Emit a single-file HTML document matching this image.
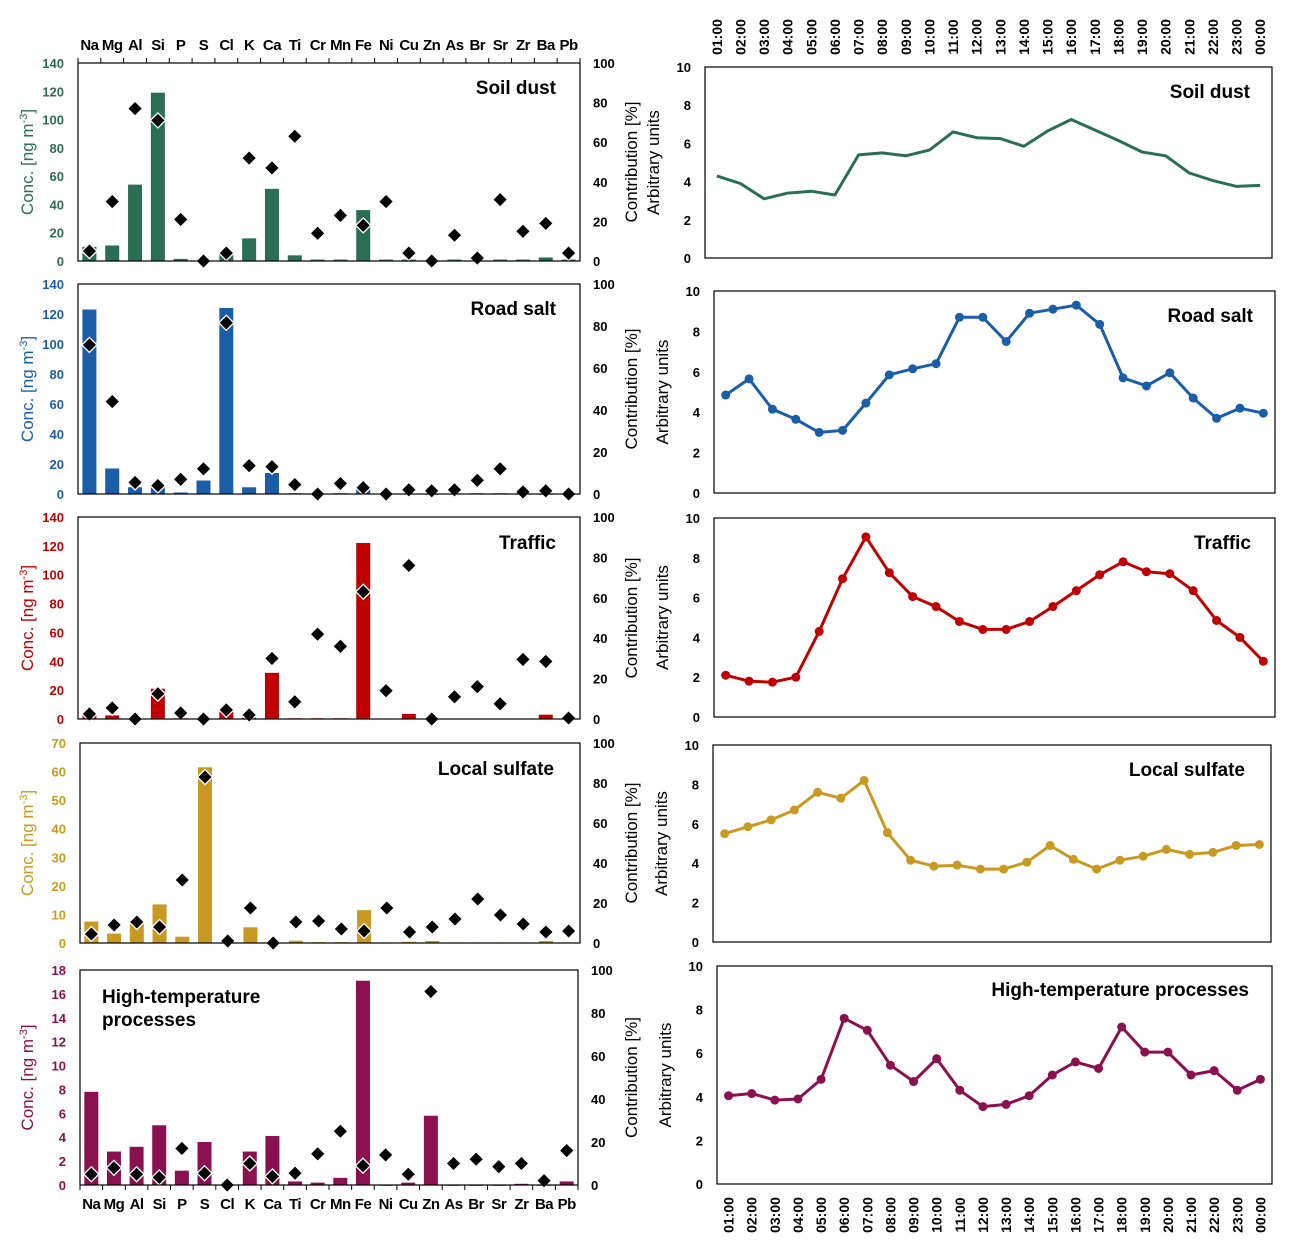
<!DOCTYPE html>
<html><head><meta charset="utf-8"><style>
html,body{margin:0;padding:0;background:#fff;}
svg{display:block;font-family:"Liberation Sans",Arial,sans-serif;}
</style></head><body>
<svg id="fig" width="1294" height="1253" viewBox="0 0 1294 1253" xmlns="http://www.w3.org/2000/svg"></svg>
<script>
const elements = ["Na","Mg","Al","Si","P","S","Cl","K","Ca","Ti","Cr","Mn","Fe","Ni","Cu","Zn","As","Br","Sr","Zr","Ba","Pb"];
const hours = ["01:00","02:00","03:00","04:00","05:00","06:00","07:00","08:00","09:00","10:00","11:00","12:00","13:00","14:00","15:00","16:00","17:00","18:00","19:00","20:00","21:00","22:00","23:00","00:00"];
const sourceNames = ["Soil dust","Road salt","Traffic","Local sulfate","High-temperature processes"];

const soilConc = [10,11,54,119,1.5,0,5,16,51,4,1,1,36,1,1,0,1,0.5,1,1,2.5,1];
const soilContrib = [5,30,77,71,21,0,4,52,47,63,14,23,18,30,4,0,13,1.5,31,15,19,4];
const saltConc = [123,17,4.5,5,1,9,124,4.5,14,0.5,0,0.5,4,0,0.3,0,0.3,0.5,0.5,0,0,0];
const saltContrib = [71,44,5.5,4,7,12,81.5,13.5,13,4.5,0,5,3,0,2,1.5,2,6.5,12,1,1.5,0];
const trafficConc = [3,2.5,0,21,0.5,0,7,1,32,0.5,0.5,0.5,122,0.3,3.5,0,0.2,0.2,0.2,0.2,3,0];
const trafficContrib = [2.5,5.5,0,12.5,3,0,4.5,2,30,8.5,42,36,63,14,76,0,11,16,7.5,29.5,28.5,0.5];
const sulfateConc = [7.5,3.3,7,13.5,2.2,61.5,0,5.5,0,0.8,0.3,0.3,11.5,0.2,0.4,0.7,0.2,0.2,0.2,0.2,0.7,0.2];
const sulfateContrib = [4.5,9,10.5,8,31.5,83,1,17.5,0,10.5,11,7,6,17.5,5.5,8,12,22,14,9.5,5.5,6];
const htConc = [7.8,2.8,3.2,5.0,1.2,3.6,0,2.8,4.1,0.3,0.2,0.6,17.1,0,0.2,5.8,0,0,0,0.1,0,0.3];
const htContrib = [5,8,5,3.5,17,5.5,0,10,4,5.5,14.5,25,9,14,5,90,10,12,8.5,10,2,16];

const soilDiurnal = [4.3,3.9,3.1,3.4,3.5,3.3,5.4,5.5,5.35,5.65,6.6,6.3,6.25,5.85,6.65,7.25,6.7,6.15,5.55,5.35,4.45,4.05,3.75,3.8];
const saltDiurnal = [4.85,5.65,4.15,3.65,3.0,3.1,4.45,5.85,6.15,6.4,8.7,8.7,7.5,8.9,9.1,9.3,8.35,5.7,5.3,5.95,4.7,3.7,4.2,3.95];
const trafficDiurnal = [2.1,1.8,1.75,2.0,4.3,6.95,9.05,7.25,6.05,5.55,4.8,4.4,4.4,4.8,5.55,6.35,7.15,7.8,7.3,7.2,6.35,4.85,4.0,2.8];
const sulfateDiurnal = [5.5,5.85,6.2,6.7,7.6,7.3,8.2,5.55,4.15,3.85,3.9,3.7,3.7,4.05,4.9,4.2,3.7,4.15,4.35,4.7,4.45,4.55,4.9,4.95];
const htDiurnal = [4.05,4.15,3.85,3.9,4.8,7.6,7.05,5.45,4.7,5.75,4.3,3.55,3.65,4.05,5.0,5.6,5.3,7.2,6.05,6.05,5.0,5.2,4.3,4.8];

const concTicks1 = [0,20,40,60,80,100,120,140];
const concTicks4 = [0,10,20,30,40,50,60,70];
const concTicks5 = [0,2,4,6,8,10,12,14,16,18];
const contribTicks = [0,20,40,60,80,100];
const arbTicks = [0,2,4,6,8,10];

const NS="http://www.w3.org/2000/svg";
const svg=document.getElementById('fig');
function mk(tag,attrs,parent){const e=document.createElementNS(NS,tag);for(const k in attrs)e.setAttribute(k,attrs[k]);(parent||svg).appendChild(e);return e;}
function txt(s,attrs,parent){const e=mk('text',attrs,parent);e.textContent=s;return e;}

const leftPanels=[
 {key:'soil',conc:soilConc,contrib:soilContrib,color:'#2a6e55',max:140,ticks:concTicks1,x0:78,x1:580,y0:63,y1:261,title:'Soil dust',tx:556,ty:94,anchor:'end',top:true},
 {key:'salt',conc:saltConc,contrib:saltContrib,color:'#1a5ea8',max:140,ticks:concTicks1,x0:78,x1:580,y0:284,y1:494,title:'Road salt',tx:556,ty:315,anchor:'end'},
 {key:'traffic',conc:trafficConc,contrib:trafficContrib,color:'#c00000',max:140,ticks:concTicks1,x0:78,x1:580,y0:517,y1:719,title:'Traffic',tx:556,ty:549,anchor:'end'},
 {key:'sulfate',conc:sulfateConc,contrib:sulfateContrib,color:'#c99a22',max:70,ticks:concTicks4,x0:80,x1:580,y0:743,y1:943,title:'Local sulfate',tx:554,ty:775,anchor:'end'},
 {key:'hightemp',conc:htConc,contrib:htContrib,color:'#8b1050',max:18,ticks:concTicks5,x0:80,x1:578,y0:970,y1:1185,title:'High-temperature|processes',tx:102,ty:1003,anchor:'start',bottom:true}
];
const rightPanels=[
 {key:'soil',vals:soilDiurnal,color:'#2a6e55',x0:705,x1:1272,y0:67,y1:258,markers:false,title:'Soil dust',tx:1250,ty:98},
 {key:'salt',vals:saltDiurnal,color:'#1a5ea8',x0:714,x1:1275,y0:291,y1:493,markers:true,title:'Road salt',tx:1253,ty:322},
 {key:'traffic',vals:trafficDiurnal,color:'#c00000',x0:714,x1:1275,y0:518,y1:717,markers:true,title:'Traffic',tx:1251,ty:549},
 {key:'sulfate',vals:sulfateDiurnal,color:'#c99a22',x0:713,x1:1271,y0:745,y1:942,markers:true,title:'Local sulfate',tx:1245,ty:776},
 {key:'hightemp',vals:htDiurnal,color:'#8b1050',x0:717,x1:1272,y0:966,y1:1184,markers:true,title:'High-temperature processes',tx:1249,ty:996,bottom:true}
];

leftPanels.forEach(p=>{
  const g=mk('g',{});
  
  
  const n=elements.length, cw=(p.x1-p.x0)/n;
  const xC=i=>p.x0+(i+0.5)*cw;
  const yL=v=>p.y1-v/p.max*(p.y1-p.y0);
  const yR=v=>p.y1-v/100*(p.y1-p.y0);
  // bars
  p.conc.forEach((v,i)=>{
    const h=p.y1-yL(v);
    const r=mk('rect',{x:xC(i)-7,y:yL(v),width:14,height:Math.max(h,0.8),fill:p.color},g);
    
    
  });
  // diamonds
  p.contrib.forEach((v,i)=>{
    const cx=xC(i),cy=yR(v),s=7.5;
    const d=mk('path',{d:`M${cx} ${cy-s}L${cx+s} ${cy}L${cx} ${cy+s}L${cx-s} ${cy}Z`,fill:'#000',stroke:'#fff','stroke-width':1.3},g);
    
    
  });
  const box=mk('rect',{x:p.x0,y:p.y0,width:p.x1-p.x0,height:p.y1-p.y0,fill:'none',stroke:'#000','stroke-width':1.2},g);
  
  
  // left ticks
  p.ticks.forEach(t=>{
    const l=txt(String(t),{x:p.x0-14,y:yL(t)+5,'text-anchor':'end','font-size':13,'font-weight':'bold',fill:p.color},g);
    
    
  });
  contribTicks.forEach(t=>{
    const l=txt(String(t),{x:p.x1+13,y:yR(t)+5,'text-anchor':'start','font-size':13,'font-weight':'bold',fill:'#000'},g);
    
    
  });
  const cy=(p.y0+p.y1)/2;
  const yt=mk('text',{x:0,y:0,transform:`translate(33 ${cy}) rotate(-90)`,'text-anchor':'middle','font-size':17,fill:p.color},g);
  yt.innerHTML='Conc. [ng m<tspan dy="-6" font-size="11">-3</tspan><tspan dy="6">]</tspan>';
  
  
  const rt=txt('Contribution [%]',{x:0,y:0,transform:`translate(637 ${cy}) rotate(-90)`,'text-anchor':'middle','font-size':17,fill:'#000'},g);
  
  
  // title
  const lines=p.title.split('|');
  lines.forEach((s,k)=>{
    const t=txt(s,{x:p.tx,y:p.ty+k*23,'text-anchor':p.anchor,'font-size':19,'font-weight':'bold',fill:'#000'},g);
    
    
  });
  if(p.top||p.bottom){
    for(let i=0;i<=n;i++){
      const x=p.x0+i*cw;
      if(p.top) mk('line',{x1:x,y1:p.y0,x2:x,y2:p.y0-5,stroke:'#000','stroke-width':1},g);
      else mk('line',{x1:x,y1:p.y1,x2:x,y2:p.y1+5,stroke:'#000','stroke-width':1},g);
    }
    elements.forEach((e,i)=>{
      const l=txt(e,{x:xC(i),y:p.top?p.y0-13:p.y1+24,'text-anchor':'middle','font-size':15,'font-weight':'bold',fill:'#000','letter-spacing':'-0.5'},g);
      
      
    });
  }
});

rightPanels.forEach(p=>{
  const g=mk('g',{});
  
  
  const n=hours.length,cw=(p.x1-p.x0)/n;
  const xC=i=>p.x0+(i+0.5)*cw;
  const y=v=>p.y1-v/10*(p.y1-p.y0);
  const box=mk('rect',{x:p.x0,y:p.y0,width:p.x1-p.x0,height:p.y1-p.y0,fill:'none',stroke:'#000','stroke-width':1.2},g);
  
  
  arbTicks.forEach(t=>{
    const l=txt(String(t),{x:p.x0-14,y:y(t)+5,'text-anchor':'end','font-size':13,'font-weight':'bold',fill:'#000'},g);
    
    
  });
  const yt=txt('Arbitrary units',{x:0,y:0,transform:`translate(${p.x0-46} ${(p.y0+p.y1)/2}) rotate(-90)`,'text-anchor':'middle','font-size':17,fill:'#000'},g);
  
  
  const pts=p.vals.map((v,i)=>xC(i).toFixed(1)+','+y(v).toFixed(1)).join(' ');
  const pl=mk('polyline',{points:pts,fill:'none',stroke:p.color,'stroke-width':3,'stroke-linejoin':'round'},g);
  
  
  if(p.markers){
    p.vals.forEach((v,i)=>{
      const c=mk('circle',{cx:xC(i),cy:y(v),r:4.5,fill:p.color},g);
      
      
    });
  }
  const t=txt(p.title,{x:p.tx,y:p.ty,'text-anchor':'end','font-size':19,'font-weight':'bold',fill:'#000'},g);
  
  
});

// hour labels top and bottom
[[705,1272,37,'top'],[717,1272,1215,'bottom']].forEach(([x0,x1,cy,pos])=>{
  const cw=(x1-x0)/hours.length;
  hours.forEach((h,i)=>{
    const x=x0+(i+0.5)*cw;
    const l=txt(h,{x:0,y:0,transform:`translate(${x+5} ${cy}) rotate(-90)`,'text-anchor':'middle','font-size':14,'font-weight':'bold',fill:'#000'});
    
    
  });
});
</script>
</body></html>
